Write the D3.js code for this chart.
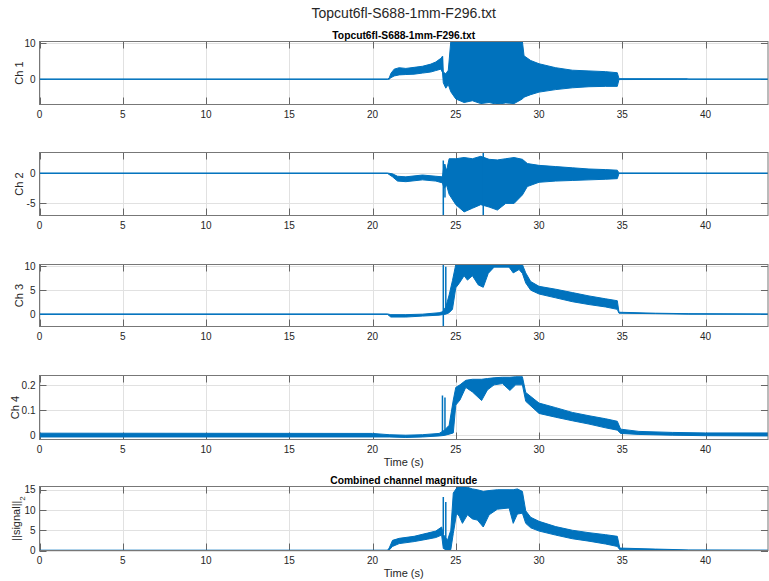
<!DOCTYPE html>
<html>
<head>
<meta charset="utf-8">
<script src="https://cdn.jsdelivr.net/npm/d3@7"></script>
<style>
  body { margin: 0; background: #fff; }
  text { font-family: "Liberation Sans", Arial, sans-serif; fill: #262626; }
</style>
</head>
<body>
<div id="chart"></div>
<script>
// envelope of each channel: [time (s), low, high]
var ch1Env = [
  [0, -0.05, 0.05], [20.9, -0.05, 0.05], [21.0, 0.0, 0.3], [21.1, 0.4, 1.6], [21.3, 0.9, 2.8],
  [21.6, 1.2, 3.2], [22.0, 1.3, 3.0], [22.5, 1.4, 3.3], [23.0, 1.7, 3.6], [23.5, 2.0, 4.2],
  [23.8, 2.4, 4.8], [24.1, 2.8, 5.8], [24.2, 2.0, 6.3], [24.25, -1.0, 2.0], [24.4, -2.5, 1.5],
  [24.55, -1.5, 2.5], [24.7, -3.5, 10.5], [25.0, -5.5, 10.5], [25.5, -6.5, 10.5], [26.0, -6.0, 10.5],
  [26.5, -6.8, 10.5], [27.0, -6.5, 10.5], [27.5, -7.0, 10.5], [28.0, -6.6, 10.5], [28.5, -6.8, 10.5],
  [29.0, -5.5, 10.5], [29.1, -5.0, 6.5], [29.5, -4.3, 5.2], [30.0, -3.6, 4.3], [31.0, -2.9, 3.2],
  [32.0, -2.4, 2.5], [33.0, -2.1, 2.3], [34.0, -2.0, 2.1], [34.7, -2.0, 1.8], [34.8, -0.1, 0.15],
  [38.9, -0.05, 0.12], [39.0, -0.03, 0.05], [43.75, -0.03, 0.05]
];
var ch2Env = [
  [0, -0.03, 0.03], [20.9, -0.03, 0.03], [21.2, -0.6, -0.1], [21.5, -1.3, -0.5], [22.0, -1.4, -0.6],
  [23.0, -1.1, -0.3], [23.8, -1.3, -0.5], [24.2, -1.6, -0.6], [24.3, -2.5, 1.5], [24.45, -2.0, 0.5],
  [24.6, -3.5, 2.4], [25.0, -5.2, 2.4], [25.5, -6.4, 2.6], [26.0, -5.8, 2.4], [26.5, -5.2, 2.8],
  [27.0, -5.6, 2.3], [27.5, -6.1, 2.2], [28.0, -5.0, 2.4], [28.5, -5.0, 2.6], [29.0, -3.6, 2.3],
  [29.3, -2.2, 1.6], [30.0, -1.5, 1.3], [31.0, -1.3, 1.1], [32.0, -1.2, 0.9], [33.0, -1.1, 0.7],
  [34.0, -1.0, 0.6], [34.7, -0.9, 0.5], [34.8, -0.05, 0.05], [43.75, -0.03, 0.03]
];
var ch3Env = [
  [0, -0.05, 0.05], [20.9, -0.05, 0.05], [21.1, -0.6, -0.1], [22.0, -0.6, -0.1], [23.0, -0.4, 0.0],
  [24.0, -0.2, 0.3], [24.2, -0.1, 0.5], [24.4, 0.0, 1.5], [24.6, 0.3, 4.0], [24.8, 1.0, 7.0],
  [25.0, 5.5, 10.35], [25.2, 6.4, 10.35], [25.5, 8.0, 10.35], [25.7, 7.1, 10.35], [26.0, 8.0, 10.35],
  [26.35, 6.1, 10.35], [26.65, 5.6, 10.35], [26.95, 8.5, 10.35], [27.3, 9.8, 10.35], [28.2, 9.8, 10.35],
  [28.45, 8.6, 10.35], [28.8, 9.3, 10.35], [29.0, 8.5, 10.35], [29.2, 6.5, 8.6], [29.5, 5.0, 6.8],
  [30.0, 4.2, 5.8], [31.0, 3.4, 5.2], [32.0, 2.6, 4.5], [33.0, 2.0, 3.8], [34.0, 1.5, 3.2],
  [34.7, 1.0, 2.8], [34.8, 0.2, 0.4], [37.0, 0.1, 0.2], [39.0, 0.0, 0.1], [43.75, -0.03, 0.05]
];
var ch4Env = [
  [0, -0.006, 0.009], [20.0, -0.006, 0.008], [21.0, -0.006, 0.003], [22.0, -0.008, 0.001], [23.0, -0.006, 0.003],
  [24.0, -0.002, 0.008], [24.3, 0.0, 0.02], [24.6, 0.005, 0.04], [24.85, 0.01, 0.14], [25.0, 0.12, 0.19],
  [25.25, 0.14, 0.2], [25.6, 0.19, 0.218], [26.0, 0.172, 0.222], [26.55, 0.138, 0.222], [26.9, 0.18, 0.225],
  [27.3, 0.2, 0.228], [27.8, 0.205, 0.23], [28.25, 0.178, 0.23], [28.6, 0.2, 0.232], [29.0, 0.2, 0.232],
  [29.2, 0.135, 0.17], [30.0, 0.087, 0.128], [31.0, 0.072, 0.11], [32.0, 0.058, 0.091], [33.0, 0.045, 0.078],
  [34.0, 0.03, 0.066], [34.7, 0.021, 0.056], [34.9, 0.008, 0.025], [36.0, 0.004, 0.016], [38.0, 0.001, 0.012],
  [40.0, -0.001, 0.01], [43.75, -0.002, 0.01]
];
var ch5Env = [
  [0, 0, 0.08], [20.9, 0, 0.08], [21.0, 0.1, 0.6], [21.2, 1.0, 2.5], [21.6, 1.7, 3.0],
  [22.5, 2.2, 3.5], [23.3, 2.8, 4.3], [23.8, 3.2, 4.8], [24.15, 3.8, 5.8], [24.25, 0.5, 4.0],
  [24.5, 0.0, 2.5], [24.7, 0.2, 5.0], [24.85, 4.2, 14.2], [25.05, 9.2, 15.4], [25.2, 8.5, 15.8],
  [25.4, 6.7, 15.8], [25.7, 8.8, 15.6], [26.0, 7.8, 15.2], [26.3, 7.5, 15.0], [26.65, 5.8, 14.6],
  [27.0, 8.8, 14.8], [27.5, 10.2, 15.0], [28.2, 10.5, 15.0], [28.45, 6.7, 15.0], [28.7, 9.0, 15.2],
  [29.0, 9.2, 14.6], [29.2, 6.7, 9.8], [29.5, 5.6, 8.2], [30.0, 4.8, 7.2], [31.0, 3.8, 5.9],
  [32.0, 2.9, 5.0], [33.0, 2.3, 4.4], [34.0, 1.6, 3.9], [34.7, 1.0, 3.5], [34.85, 0.2, 0.6],
  [37.0, 0.1, 0.35], [39.0, 0.0, 0.15], [43.75, 0.0, 0.1]
];

// isolated spikes: [time (s), low, high]
var ch1Spikes = [[24.2, 2.0, 6.4]];
var ch2Spikes = [[24.25, -7, 2.1], [24.35, -4, 1.5], [26.65, -7, 3.4]];
var ch3Spikes = [[24.25, -2.6, 10.35], [24.4, 0.5, 9.9]];
var ch4Spikes = [[24.2, 0.01, 0.158], [24.35, 0.01, 0.15]];
var ch5Spikes = [[24.25, 4, 13.2], [24.4, 2, 12]];

// axis ranges and ticks
var timeRange = [0, 43.75];
var timeTicks = [0, 5, 10, 15, 20, 25, 30, 35, 40];
var ch1Range = [-7.05, 10.5], ch1Ticks = [0, 10];
var ch2Range = [-7, 3.43], ch2Ticks = [-5, 0];
var ch3Range = [-2.57, 10.35], ch3Ticks = [0, 5, 10];
var ch4Range = [-0.016, 0.237], ch4Ticks = [0, 0.1, 0.2];
var ch5Range = [0, 15.8], ch5Ticks = [0, 5, 10, 15];

var fileName = "Topcut6fl-S688-1mm-F296.txt";

var width = 769, height = 581;
var left = 39.5, right = 768;
var blue = "#0072BD";

var panels = [
  { env: ch1Env, spikes: ch1Spikes, range: ch1Range, ticks: ch1Ticks, label: "Ch 1", labelX: 22.5, top: 41.5, bottom: 104.5, title: fileName },
  { env: ch2Env, spikes: ch2Spikes, range: ch2Range, ticks: ch2Ticks, label: "Ch 2", labelX: 22.5, top: 152.5, bottom: 215.5 },
  { env: ch3Env, spikes: ch3Spikes, range: ch3Range, ticks: ch3Ticks, label: "Ch 3", labelX: 22.5, top: 264.5, bottom: 326.5 },
  { env: ch4Env, spikes: ch4Spikes, range: ch4Range, ticks: ch4Ticks, label: "Ch 4", labelX: 18.5, top: 375.5, bottom: 439.5, xlabel: "Time (s)" },
  { env: ch5Env, spikes: ch5Spikes, range: ch5Range, ticks: ch5Ticks, label: "norm", labelX: 20, top: 486.5, bottom: 550.5, title: "Combined channel magnitude", xlabel: "Time (s)" }
];

var svg = d3.select("#chart").append("svg")
  .attr("width", width)
  .attr("height", height);

svg.append("text")
  .attr("x", (left + right) / 2).attr("y", 18)
  .attr("text-anchor", "middle")
  .style("font-size", "14px")
  .text(fileName);

var x = d3.scaleLinear().domain(timeRange).range([left, right]);

function drawPanel(p, i) {
  var y = d3.scaleLinear().domain(p.range).range([p.bottom, p.top]);
  var g = svg.append("g");
  var tickLen = 7;

  g.append("clipPath").attr("id", "clip" + i)
    .append("rect")
    .attr("x", left).attr("y", p.top)
    .attr("width", right - left).attr("height", p.bottom - p.top);

  // grid
  g.selectAll(".gx").data(timeTicks).enter().append("line")
    .attr("x1", function(d) { return Math.round(x(d)) + 0.5; })
    .attr("x2", function(d) { return Math.round(x(d)) + 0.5; })
    .attr("y1", p.top).attr("y2", p.bottom)
    .attr("stroke", "#e1e1e1");
  g.selectAll(".gy").data(p.ticks).enter().append("line")
    .attr("x1", left).attr("x2", right)
    .attr("y1", function(d) { return Math.round(y(d)) + 0.5; })
    .attr("y2", function(d) { return Math.round(y(d)) + 0.5; })
    .attr("stroke", "#e1e1e1");

  // ticks, inward on all four sides
  var tk = g.append("g").attr("stroke", "#666");
  timeTicks.forEach(function(d) {
    var px = Math.round(x(d)) + 0.5;
    tk.append("line").attr("x1", px).attr("x2", px).attr("y1", p.bottom).attr("y2", p.bottom - tickLen);
    tk.append("line").attr("x1", px).attr("x2", px).attr("y1", p.top).attr("y2", p.top + tickLen);
  });
  p.ticks.forEach(function(d) {
    var py = Math.round(y(d)) + 0.5;
    tk.append("line").attr("x1", left).attr("x2", left + tickLen).attr("y1", py).attr("y2", py);
    tk.append("line").attr("x1", right).attr("x2", right - tickLen).attr("y1", py).attr("y2", py);
  });

  // signal envelope
  var area = d3.area()
    .x(function(d) { return x(d[0]); })
    .y0(function(d) { return y(d[1]); })
    .y1(function(d) { return y(d[2]); });
  var data = g.append("g").attr("clip-path", "url(#clip" + i + ")");
  data.append("path")
    .datum(p.env)
    .attr("d", area)
    .attr("fill", blue)
    .attr("stroke", blue)
    .attr("stroke-width", 1);
  data.selectAll(".spike").data(p.spikes).enter().append("line")
    .attr("x1", function(d) { return x(d[0]); })
    .attr("x2", function(d) { return x(d[0]); })
    .attr("y1", function(d) { return y(d[1]); })
    .attr("y2", function(d) { return y(d[2]); })
    .attr("stroke", blue)
    .attr("stroke-width", 1.5);

  // box
  g.append("rect")
    .attr("x", left).attr("y", p.top)
    .attr("width", right - left).attr("height", p.bottom - p.top)
    .attr("fill", "none").attr("stroke", "#777");

  // tick labels
  g.selectAll(".xl").data(timeTicks).enter().append("text")
    .attr("x", function(d) { return x(d); })
    .attr("y", p.bottom + 13)
    .attr("text-anchor", "middle")
    .style("font-size", "10px")
    .text(function(d) { return d; });
  g.selectAll(".yl").data(p.ticks).enter().append("text")
    .attr("x", left - 4)
    .attr("y", function(d) { return y(d) + 3.7; })
    .attr("text-anchor", "end")
    .style("font-size", "10px")
    .text(function(d) { return d; });

  // y label
  var yl = g.append("text")
    .attr("transform", "translate(" + p.labelX + "," + (p.top + p.bottom) / 2 + ") rotate(-90)")
    .attr("text-anchor", "middle")
    .style("font-size", "11px");
  if (p.label == "norm") {
    yl.append("tspan").text("||signal||");
    yl.append("tspan").attr("baseline-shift", "sub").style("font-size", "8px").text("2");
  } else {
    yl.text(p.label);
  }

  if (p.title) {
    g.append("text")
      .attr("x", (left + right) / 2).attr("y", p.top - 2.5)
      .attr("text-anchor", "middle")
      .style("font-size", "10.3px").style("font-weight", "bold")
      .style("fill", "#000")
      .text(p.title);
  }
  if (p.xlabel) {
    g.append("text")
      .attr("x", (left + right) / 2).attr("y", p.bottom + 26)
      .attr("text-anchor", "middle")
      .style("font-size", "11px")
      .text(p.xlabel);
  }
}

panels.forEach(drawPanel);
</script>
</body>
</html>
